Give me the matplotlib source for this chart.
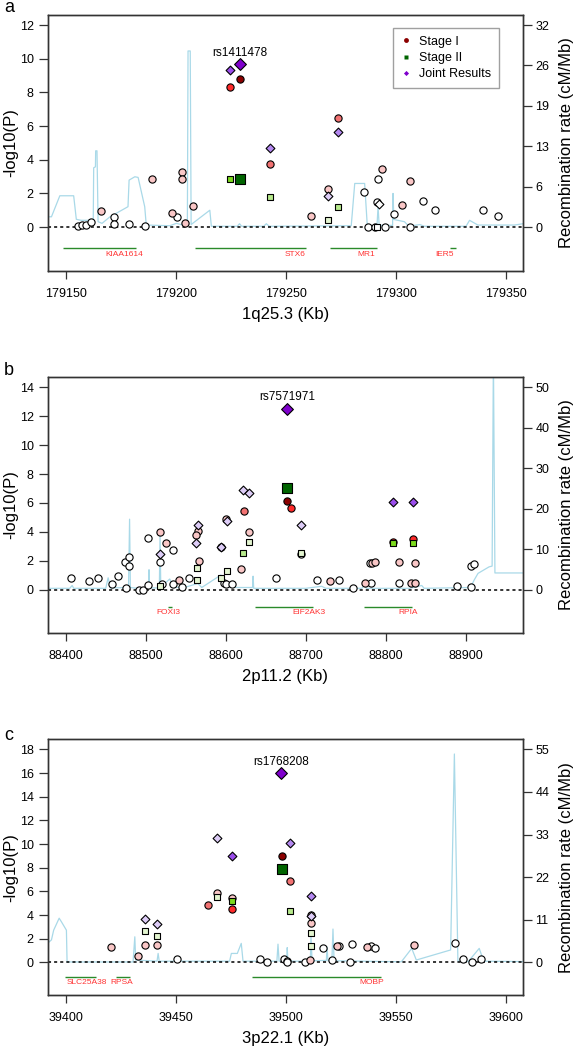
import matplotlib
matplotlib.use('Agg')
import matplotlib.pyplot as plt
from matplotlib.lines import Line2D
import numpy as np

plt.rcParams['font.family'] = ['Liberation Sans', 'DejaVu Sans']

# ======================= DATA =======================
# ---- panel a : 1q25.3 ----
a_pos = [179155.4, 179157.3, 179159.1, 179161.7, 179166.2, 179172.0, 179172.0, 179178.6,
         179185.9, 179189.4, 179198.2, 179200.7, 179203.0, 179203.0, 179204.4, 179207.7,
         179224.8, 179229.1, 179243.0, 179261.5, 179269.4, 179273.8, 179285.7, 179287.4,
         179290.4, 179291.6, 179292.1, 179293.8, 179295.0, 179299.2, 179302.9, 179306.6,
         179306.6, 179312.4, 179318.0, 179339.7, 179346.4,
         179224.8, 179229.1, 179243.0, 179269.4, 179273.8, 179291.6,
         179224.8, 179229.1, 179243.0, 179269.4, 179273.8, 179292.3]
a_logp = [0.06, 0.12, 0.12, 0.32, 0.95, 0.59, 0.20, 0.16,
          0.08, 2.83, 0.83, 0.57, 3.29, 2.83, 0.24, 1.25,
          8.32, 8.77, 3.72, 0.63, 2.26, 6.46, 2.08, 0.02,
          0.00, 1.47, 2.85, 3.47, 0.00, 0.79, 1.33, 2.73,
          0.02, 1.52, 1.03, 1.00, 0.68,
          2.83, 2.85, 1.78, 0.40, 1.19, 0.00,
          9.31, 9.66, 4.67, 1.82, 5.66, 1.40]
a_stage = ['I'] * 37 + ['II'] * 6 + ['J'] * 6
a_ld = [4, 4, 4, 4, 3, 4, 4, 4,
        4, 3, 3, 4, 3, 3, 3, 3,
        1, 0, 2, 3, 3, 2, 4, 4,
        4, 4, 4, 3, 4, 4, 3, 3,
        4, 4, 4, 4, 4,
        1, 0, 2, 3, 2, 4,
        1, 0, 2, 3, 2, 4]
a_rec_pos = [179141.7, 179143.5, 179147.3, 179153.6, 179154.8, 179157.0, 179160.0, 179162.5,
             179162.7, 179163.5, 179163.6, 179164.2, 179164.7, 179166.5, 179170.0, 179178.3,
             179178.8, 179181.4, 179182.9, 179185.9, 179186.6, 179197.3, 179200.3, 179203.3,
             179205.3, 179205.6, 179206.6, 179207.0, 179215.5, 179216.2, 179228.0, 179229.0,
             179230.0, 179240.0, 179241.2, 179242.5, 179279.8, 179281.4, 179285.9, 179287.1,
             179291.5, 179292.0, 179292.5, 179298.6, 179298.8, 179299.2, 179304.0, 179306.0,
             179311.0, 179313.0, 179332.0, 179333.6, 179337.4, 179354.0, 179357.9]
a_rec_rate = [1.63, 1.63, 4.96, 4.96, 1.23, 1.07, 1.07, 1.07,
              9.39, 9.55, 12.08, 12.08, 0.85, 0.59, 1.60, 3.23,
              7.44, 7.97, 7.87, 3.23, 0.32, 0.21, 0.59, 0.32,
              0.80, 27.9, 27.9, 0.40, 2.67, 0.13, 0.13, 0.53,
              0.13, 0.13, 0.53, 0.13, 0.21, 6.91, 6.91, 0.21,
              0.21, 3.20, 0.27, 0.27, 5.33, 1.20, 0.85, 0.13,
              0.40, 0.13, 0.13, 1.07, 0.32, 0.32, 0.53]
a_gene_names = ['KIAA1614', 'STX6', 'MR1', 'IER5']
a_gene_start = [179148.8, 179208.9, 179270.0, 179324.8]
a_gene_end = [179182.1, 179259.1, 179291.6, 179327.3]
a_gene_label_x = [179176.8, 179254.1, 179286.6, 179322.3]
a_xticks = [179150, 179200, 179250, 179300, 179350]
a_yticks = [0, 2, 4, 6, 8, 10, 12]
a_rticks = [0, 6.4, 12.8, 19.2, 25.6, 32]
a_rticklabels = ['0', '6', '13', '19', '26', '32']
a_lead = ('rs1411478', 179229.1, 10.32)

# ---- panel b : 2p11.2 ----
b_pos = [88407.0, 88428.7, 88440.8, 88457.5, 88465.4, 88475.4, 88473.7, 88479.5,
         88479.5, 88491.2, 88496.6, 88502.9, 88502.9, 88518.3, 88518.3, 88520.4,
         88525.4, 88534.5, 88534.1, 88541.2, 88545.0, 88554.5, 88566.2, 88565.4,
         88562.9, 88593.7, 88600.8, 88597.9, 88600.4, 88607.5, 88619.1, 88622.5,
         88628.7, 88663.3, 88677.0, 88681.6, 88694.5, 88714.5, 88730.0, 88741.2,
         88759.5, 88774.5, 88781.2, 88780.4, 88782.5, 88786.6, 88809.5, 88834.1,
         88816.6, 88816.2, 88832.0, 88836.6, 88836.6, 88889.5, 88906.2, 88907.0,
         88910.4,
         88518.3, 88563.7, 88564.1, 88593.7, 88602.0, 88622.0, 88628.7, 88677.0,
         88694.5, 88809.5, 88834.1,
         88518.3, 88562.9, 88565.8, 88593.7, 88601.2, 88622.0, 88628.7, 88677.0,
         88694.5, 88809.5, 88834.1]
b_logp = [0.78, 0.62, 0.82, 0.41, 0.92, 0.09, 1.88, 2.24,
          1.65, 0.00, 0.00, 0.30, 3.55, 3.98, 1.88, 0.41,
          3.25, 2.77, 0.39, 0.66, 0.16, 0.80, 1.97, 4.03,
          3.75, 2.97, 4.85, 0.46, 0.41, 0.41, 1.42, 5.47,
          4.00, 0.78, 6.13, 5.63, 2.45, 0.66, 0.60, 0.66,
          0.11, 0.48, 0.43, 1.81, 1.83, 1.88, 3.32, 3.50,
          1.88, 0.43, 0.43, 0.43, 1.81, 0.25, 0.16, 1.60,
          1.78,
          0.23, 0.69, 1.51, 0.82, 1.26, 2.52, 3.32, 7.05,
          2.52, 3.25, 3.25,
          2.45, 3.20, 4.50, 2.93, 4.76, 6.86, 6.66, 12.52,
          4.44, 6.06, 6.06]
b_stage = ['I'] * 57 + ['II'] * 11 + ['J'] * 11
b_ld = [4, 4, 4, 4, 4, 4, 4, 4,
        4, 4, 4, 4, 4, 3, 4, 4,
        3, 4, 4, 3, 4, 4, 3, 3,
        3, 4, 3, 4, 4, 4, 3, 2,
        3, 4, 0, 1, 4, 4, 3, 4,
        4, 3, 4, 4, 3, 3, 1, 1,
        3, 4, 3, 3, 3, 4, 4, 4,
        4,
        3, 3, 3, 3, 3, 2, 3, 0,
        3, 1, 1,
        3, 3, 3, 3, 3, 3, 3, 0,
        3, 1, 1]
b_rec_pos = [88377.2, 88405.0, 88408.0, 88410.0, 88450.0, 88453.0, 88456.0, 88478.5,
             88479.8, 88480.8, 88490.0, 88503.5, 88504.1, 88504.8, 88517.0, 88517.9,
             88518.8, 88530.0, 88535.0, 88550.0, 88565.0, 88570.0, 88594.0, 88598.0,
             88615.0, 88633.5, 88634.2, 88635.0, 88700.0, 88720.0, 88725.0, 88770.0,
             88773.0, 88776.0, 88830.0, 88845.0, 88848.0, 88906.0, 88910.7, 88915.4,
             88929.1, 88933.0, 88934.6, 88936.5, 88971.6]
b_rec_rate = [0.3, 0.3, 1.0, 0.3, 0.3, 2.9, 0.4, 0.5,
              17.4, 0.5, 0.3, 0.3, 4.9, 0.4, 0.4, 13.5,
              0.6, 2.6, 0.5, 0.6, 1.5, 0.5, 3.6, 0.6,
              0.5, 0.5, 3.3, 0.3, 0.3, 0.8, 0.3, 0.3,
              0.9, 0.3, 0.3, 1.0, 0.3, 0.5, 2.4, 4.0,
              5.6, 5.8, 58.0, 4.1, 4.1]
b_gene_names = ['FOXI3', 'EIF2AK3', 'RPIA']
b_gene_start = [88528.4, 88636.3, 88772.9]
b_gene_end = [88532.9, 88709.0, 88832.9]
b_gene_label_x = [88527.9, 88704.0, 88827.9]
b_xticks = [88400, 88500, 88600, 88700, 88800, 88900]
b_yticks = [0, 2, 4, 6, 8, 10, 12, 14]
b_rticks = [0, 10, 20, 30, 40, 50]
b_rticklabels = ['0', '10', '20', '30', '40', '50']
b_lead = ('rs7571971', 88677.0, 13.35)

# ---- panel c : 3p22.1 ----
c_pos = [39420.7, 39432.9, 39436.2, 39441.5, 39450.6, 39464.7, 39468.9, 39475.5,
         39475.5, 39488.5, 39491.6, 39498.2, 39502.1, 39499.2, 39500.7, 39500.7,
         39508.6, 39511.2, 39511.5, 39511.5, 39517.0, 39521.0, 39523.5, 39524.1,
         39529.2, 39530.3, 39536.8, 39538.6, 39540.7, 39558.3, 39577.0, 39580.7,
         39584.5, 39589.0,
         39436.2, 39441.5, 39468.9, 39475.5, 39498.2, 39502.1, 39511.7, 39511.5,
         39436.2, 39441.5, 39468.9, 39475.5, 39498.0, 39502.1, 39511.7, 39511.5]
c_logp = [1.27, 0.56, 1.49, 1.49, 0.25, 4.82, 5.83, 5.41,
          4.48, 0.25, 0.03, 9.01, 6.87, 0.25, 0.14, 0.03,
          0.06, 0.17, 3.30, 3.96, 1.24, 0.17, 1.35, 1.41,
          0.03, 1.55, 1.27, 1.41, 1.24, 1.46, 1.63, 0.28,
          0.03, 0.30,
          2.62, 2.20, 5.49, 5.21, 7.92, 4.31, 2.45, 1.41,
          3.69, 3.24, 10.48, 9.01, 15.98, 10.11, 5.63, 3.92]
c_stage = ['I'] * 34 + ['II'] * 8 + ['J'] * 8
c_ld = [3, 3, 3, 3, 4, 2, 3, 3,
        1, 4, 4, 0, 2, 4, 4, 4,
        4, 3, 3, 3, 4, 4, 3, 4,
        4, 4, 3, 4, 4, 3, 4, 4,
        4, 4,
        3, 3, 3, 1, 0, 2, 3, 3,
        3, 3, 3, 1, 0, 2, 2, 3]
c_rec_pos = [39391.7, 39393.5, 39394.5, 39397.0, 39398.0, 39400.3, 39400.6, 39430.6,
             39431.4, 39431.8, 39441.5, 39442.0, 39442.5, 39474.5, 39475.3, 39478.0,
             39479.8, 39480.6, 39496.0, 39496.5, 39497.0, 39500.5, 39500.7, 39501.0,
             39511.2, 39511.5, 39512.0, 39518.5, 39518.8, 39519.2, 39521.0, 39521.5,
             39522.0, 39552.6, 39557.3, 39559.4, 39575.0, 39576.7, 39578.3, 39583.0,
             39588.0, 39590.0, 39607.9]
c_rec_rate = [4.9, 5.8, 8.3, 11.4, 10.5, 8.3, 0.1, 0.1,
              6.6, 0.6, 0.3, 2.3, 0.3, 0.3, 2.3, 2.3,
              4.9, 0.3, 0.3, 4.7, 0.3, 0.3, 3.8, 0.3,
              0.3, 6.6, 0.4, 0.5, 4.0, 0.4, 0.3, 8.6,
              0.4, 0.15, 3.6, 0.6, 3.2, 53.8, 0.3, 0.2,
              3.6, 0.3, 0.2]
c_gene_names = ['SLC25A38', 'RPSA', 'MOBP']
c_gene_start = [39399.5, 39423.0, 39484.8]
c_gene_end = [39413.9, 39429.4, 39543.3]
c_gene_label_x = [39409.8, 39425.3, 39539.2]
c_xticks = [39400, 39450, 39500, 39550, 39600]
c_yticks = [0, 2, 4, 6, 8, 10, 12, 14, 16, 18]
c_rticks = [0, 11, 22, 33, 44, 55]
c_rticklabels = ['0', '11', '22', '33', '44', '55']
c_lead = ('rs1768208', 39498.0, 16.96)

legend_labels = ['Stage I', 'Stage II', 'Joint Results']

# ======================= STYLE =======================
COLORS = {
    'I':  ['#8B0000', '#FF2A2A', '#F27272', '#F9C6C6', '#FFFFFF'],
    'II': ['#006400', '#7CDB1E', '#B7E98C', '#E3F5D0', '#FFFFFF'],
    'J':  ['#7F00CC', '#9B4DEB', '#B488F0', '#DDCCF7', '#FFFFFF'],
}
MARKERS = {'I': 'o', 'II': 's', 'J': 'D'}
SIZES = {'I': (27, 27), 'II': (18, 42), 'J': (20, 36)}   # (normal, lead)
REC_COLOR = '#A9D9E8'
GENE_LINE = '#2A8A2A'
GENE_TEXT = '#FF3333'
AXCOL = '#333333'

W, H = 578, 1050
fig = plt.figure(figsize=(W / 100, H / 100), dpi=100)


def rect(left, right, top, bottom):
    return [left / W, 1 - bottom / H, (right - left) / W, (bottom - top) / H]


def panel(r, xlim, ylim, ymax_left, rmax, pos, logp, stage, ld, rec_pos, rec_rate,
          gnames, gstart, gend, glab, gene_y, glab_y, xticks, yticks, rticks, rlabels,
          lead, xlabel, letter, letter_y, legend=False):
    ax = fig.add_axes(r)
    ax2 = ax.twinx()
    ax.set_zorder(ax2.get_zorder() + 1)
    ax.patch.set_visible(False)

    # recombination rate
    ax2.plot(rec_pos, rec_rate, color=REC_COLOR, lw=0.9, zorder=1)
    ax2.set_ylim(ylim[0] * rmax / ymax_left, ylim[1] * rmax / ymax_left)
    ax2.set_yticks(rticks)
    ax2.set_yticklabels(rlabels)

    # baseline
    ax.axhline(0, color='black', lw=1.1, ls=(0, (2, 2)), zorder=2)

    pos = np.asarray(pos); logp = np.asarray(logp)
    stage = np.asarray(stage); ld = np.asarray(ld)
    for st in ['I', 'II', 'J']:
        for lv in [4, 3, 2, 1, 0]:
            m = (stage == st) & (ld == lv)
            if not m.any():
                continue
            s = SIZES[st][1] if lv == 0 else SIZES[st][0]
            ax.scatter(pos[m], logp[m], s=s, marker=MARKERS[st],
                       facecolor=COLORS[st][lv], edgecolor='black',
                       linewidths=0.8, zorder=3 + (5 - lv) * 0.1 + {'I': 0, 'II': 1, 'J': 2}[st])

    # genes
    for n, g0, g1, gl in zip(gnames, gstart, gend, glab):
        ax.plot([g0, g1], [gene_y, gene_y], color=GENE_LINE, lw=1.0, solid_capstyle='butt')
        ax.text(gl, glab_y, n, color=GENE_TEXT, fontsize=6, ha='center', va='center')

    # lead snp label
    ax.text(lead[1], lead[2], lead[0], fontsize=8.5, ha='center', va='center')

    ax.set_xlim(*xlim)
    ax.set_ylim(*ylim)
    ax.set_xticks(xticks)
    ax.set_xticklabels([str(t) for t in xticks])
    ax.set_yticks(yticks)

    for a in (ax, ax2):
        for sp in a.spines.values():
            sp.set_color(AXCOL)
            sp.set_linewidth(1.0)
    ax.tick_params(axis='x', direction='out', length=5.5, width=0.9, color=AXCOL,
                   labelsize=9, pad=7)
    ax.tick_params(axis='y', direction='out', length=6.5, width=0.9, color=AXCOL,
                   labelsize=9, pad=3.5)
    ax2.tick_params(axis='y', direction='out', length=6.5, width=0.9, color=AXCOL,
                    labelsize=9, pad=2.5)

    ax.set_xlabel(xlabel, fontsize=12)
    ax.xaxis.label.set_va('center')
    ax.xaxis.set_label_coords(0.5, -0.17)
    ax.set_ylabel('-log10(P)', fontsize=12)
    ax.yaxis.label.set_va('center')
    ax.yaxis.set_label_coords(-0.078, 0.5)
    ax2.set_ylabel('Recombination rate (cM/Mb)', fontsize=12, rotation=90)
    ax2.yaxis.label.set_va('center')
    ax2.yaxis.set_label_coords(1.092, 0.5)

    fig.text(9 / W, 1 - letter_y / H, letter, fontsize=13, ha='center', va='center')

    if legend:
        handles = [Line2D([], [], ls='none', marker='o', ms=3.5, mfc=COLORS['I'][0], mec='none'),
                   Line2D([], [], ls='none', marker='s', ms=3.2, mfc=COLORS['II'][0], mec='none'),
                   Line2D([], [], ls='none', marker='D', ms=2.6, mfc=COLORS['J'][0], mec='none')]
        leg = ax.legend(handles, legend_labels, loc='upper right',
                        bbox_to_anchor=((499 - 47.5) / 475.5, (271 - 28) / 256),
                        frameon=True, fancybox=False, edgecolor='#888888', fontsize=9,
                        handlelength=0.8, handletextpad=0.7, borderpad=0.6,
                        labelspacing=0.35, borderaxespad=0.0)
        leg.get_frame().set_linewidth(1.0)
        leg.set_zorder(10)
    return ax


panel(rect(47.5, 523, 15, 271), (179141.7, 179357.9), (-2.61, 12.6), 12, 32,
      a_pos, a_logp, a_stage, a_ld, a_rec_pos, a_rec_rate,
      a_gene_names, a_gene_start, a_gene_end, a_gene_label_x, -1.25, -1.62,
      a_xticks, a_yticks, a_rticks, a_rticklabels, a_lead, '1q25.3 (Kb)', 'a', 8,
      legend=True)

panel(rect(47.5, 523, 376.7, 632.7), (88377.2, 88971.6), (-2.99, 14.74), 14, 50,
      b_pos, b_logp, b_stage, b_ld, b_rec_pos, b_rec_rate,
      b_gene_names, b_gene_start, b_gene_end, b_gene_label_x, -1.23, -1.62,
      b_xticks, b_yticks, b_rticks, b_rticklabels, b_lead, '2p11.2 (Kb)', 'b', 370)

panel(rect(47.5, 523, 739.3, 995), (39391.7, 39607.9), (-2.76, 18.85), 18, 55,
      c_pos, c_logp, c_stage, c_ld, c_rec_pos, c_rec_rate,
      c_gene_names, c_gene_start, c_gene_end, c_gene_label_x, -1.27, -1.72,
      c_xticks, c_yticks, c_rticks, c_rticklabels, c_lead, '3p22.1 (Kb)', 'c', 735)

fig.savefig('out.png', dpi=100)
